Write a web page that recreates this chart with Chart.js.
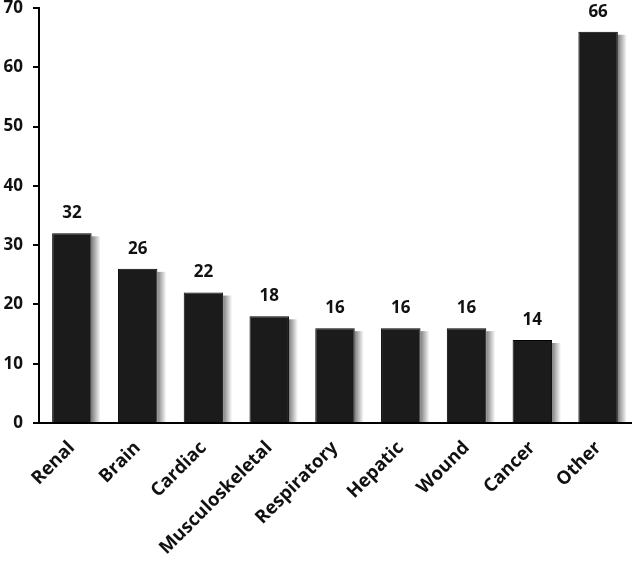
<!DOCTYPE html>
<html>
<head>
<meta charset="utf-8">
<style>
  html, body { margin: 0; padding: 0; background: #fff; }
  #wrap { width: 634px; height: 561px; }
</style>
<script src="https://cdn.jsdelivr.net/npm/chart.js@4/dist/chart.umd.min.js"></script>
</head>
<body>
<div id="wrap"><canvas id="chart"></canvas></div>
<script>
// datos del gráfico
const categories = ['Renal', 'Brain', 'Cardiac', 'Musculoskeletal', 'Respiratory', 'Hepatic', 'Wound', 'Cancer', 'Other'];
const counts = [32, 26, 22, 18, 16, 16, 16, 14, 66];
const yTicks = [0, 10, 20, 30, 40, 50, 60, 70];

const fontFam = '"Open Sans", sans-serif';

// sombra gris a la derecha de las barras (degradado)
const barShadow = {
  id: 'barShadow',
  beforeDatasetsDraw(chart) {
    const ctx = chart.ctx;
    const meta = chart.getDatasetMeta(0);
    ctx.save();
    meta.data.forEach(bar => {
      const p = bar.getProps(['x', 'y', 'width', 'base'], true);
      const right = p.x + p.width / 2;
      const g = ctx.createLinearGradient(right, 0, right + 9, 0);
      g.addColorStop(0, 'rgba(0,0,0,0.5)');
      g.addColorStop(1, 'rgba(0,0,0,0)');
      ctx.fillStyle = g;
      ctx.fillRect(right, p.y + 3, 9, p.base - p.y - 3);
    });
    ctx.restore();
  }
};

// valores encima de cada barra
const valueLabels = {
  id: 'valueLabels',
  afterDatasetsDraw(chart) {
    const ctx = chart.ctx;
    const meta = chart.getDatasetMeta(0);
    ctx.save();
    ctx.fillStyle = '#111';
    ctx.font = 'bold 17px ' + fontFam;
    ctx.textAlign = 'center';
    ctx.textBaseline = 'middle';
    meta.data.forEach((bar, i) => {
      ctx.fillText(String(counts[i]), bar.x, bar.y - 20);
    });
    ctx.restore();
  }
};

new Chart(document.getElementById('chart'), {
  type: 'bar',
  data: {
    labels: categories,
    datasets: [{
      data: counts,
      backgroundColor: '#1b1b1b',
      borderColor: '#000',
      borderWidth: 1,
      categoryPercentage: 1,
      barPercentage: 0.6
    }]
  },
  options: {
    responsive: true,
    maintainAspectRatio: false,
    animation: false,
    layout: { padding: { top: 8, right: 3, left: 0, bottom: 0 } },
    plugins: { legend: { display: false }, tooltip: { enabled: false } },
    scales: {
      x: {
        grid: { display: false },
        border: { display: true, color: '#000', width: 2 },
        ticks: {
          color: '#111',
          font: { family: fontFam, size: 18.5, weight: 'bold' },
          minRotation: 45,
          maxRotation: 45,
          padding: 6
        },
        afterFit(scale) {
          scale.height = 138;
          scale.paddingLeft = 0;
          scale.paddingRight = 0;
        }
      },
      y: {
        min: 0,
        max: 70,
        afterBuildTicks(scale) { scale.ticks = yTicks.map(v => ({ value: v })); },
        grid: { drawOnChartArea: false, drawTicks: true, tickLength: 6, color: '#000', lineWidth: 2 },
        border: { display: true, color: '#000', width: 2 },
        ticks: {
          color: '#111',
          font: { family: fontFam, size: 17, weight: 'bold' },
          padding: 10
        },
        afterFit(scale) {
          scale.width = 39;
          scale.paddingTop = 0;
          scale.paddingBottom = 0;
        }
      }
    }
  },
  plugins: [barShadow, valueLabels]
});
</script>
</body>
</html>
